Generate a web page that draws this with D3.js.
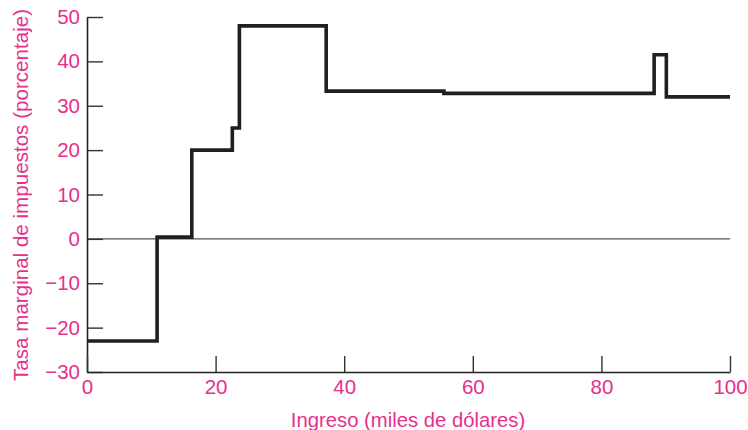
<!DOCTYPE html>
<html>
<head>
<meta charset="utf-8">
<script src="https://cdn.jsdelivr.net/npm/d3@7"></script>
<style>
  html, body { margin: 0; padding: 0; background: #fff; }
  svg { display: block; }
</style>
</head>
<body>
<svg id="chart" width="748" height="430"></svg>
<script>
// Data
const incomeBreaks = [0, 10.9, 16.3, 22.6, 23.7, 37.2, 55.5, 88.2, 90.1, 100];
const marginalRates = [-23, 0.4, 20, 25, 48, 33.3, 32.8, 41.5, 32];
const xTicks = [0, 20, 40, 60, 80, 100];
const yTicks = [-30, -20, -10, 0, 10, 20, 30, 40, 50];
const xTitle = "Ingreso (miles de dólares)";
const yTitle = "Tasa marginal de impuestos (porcentaje)";

const pink = "#e6308b";
const font = "'Liberation Sans', Arial, sans-serif";

const svg = d3.select("#chart");
const mLeft = 87, mRight = 730, mTop = 17, mBottom = 372;

const x = d3.scaleLinear().domain([0, 100]).range([mLeft, mRight]);
const y = d3.scaleLinear().domain([-30, 50]).range([mBottom, mTop]);

// zero line
svg.append("line")
  .attr("x1", x(0)).attr("x2", x(100))
  .attr("y1", y(0)).attr("y2", y(0))
  .attr("stroke", "#555").attr("stroke-width", 1.2);

// Y axis
const yAxis = svg.append("g")
  .attr("transform", `translate(${mLeft},0)`)
  .call(d3.axisLeft(y).tickValues(yTicks).tickSizeInner(-16).tickSizeOuter(0).tickPadding(7)
    .tickFormat(d => d < 0 ? "\u2212" + Math.abs(d) : d));
yAxis.select(".domain").attr("stroke", "#222").attr("stroke-width", 1.6);
yAxis.selectAll(".tick line").attr("stroke", "#333").attr("stroke-width", 1.4);
yAxis.selectAll(".tick text").attr("fill", pink).style("font-family", font).style("font-size", "20.5px");

// X axis
const xAxis = svg.append("g")
  .attr("transform", `translate(0,${mBottom})`)
  .call(d3.axisBottom(x).tickValues(xTicks).tickSizeInner(-16).tickSizeOuter(0).tickPadding(7));
xAxis.select(".domain").attr("stroke", "#222").attr("stroke-width", 1.6);
xAxis.selectAll(".tick line").attr("stroke", "#333").attr("stroke-width", 1.4);
xAxis.selectAll(".tick text").attr("fill", pink).style("font-family", font).style("font-size", "20.5px");

// step line
const pts = incomeBreaks.map((b, i) => [b, i < marginalRates.length ? marginalRates[i] : marginalRates[marginalRates.length - 1]]);
const line = d3.line().x(d => x(d[0])).y(d => y(d[1])).curve(d3.curveStepAfter);
svg.append("path")
  .datum(pts)
  .attr("d", line)
  .attr("fill", "none")
  .attr("stroke", "#231f20")
  .attr("stroke-width", 3.6)
  .attr("stroke-linejoin", "miter")
  .attr("stroke-linecap", "butt");

// titles
svg.append("text")
  .attr("x", 408).attr("y", 427)
  .attr("text-anchor", "middle")
  .attr("fill", pink)
  .style("font-family", font).style("font-size", "20.3px")
  .text(xTitle);

svg.append("text")
  .attr("transform", `translate(28,195) rotate(-90)`)
  .attr("text-anchor", "middle")
  .attr("fill", pink)
  .style("font-family", font).style("font-size", "20.6px")
  .text(yTitle);
</script>
</body>
</html>
